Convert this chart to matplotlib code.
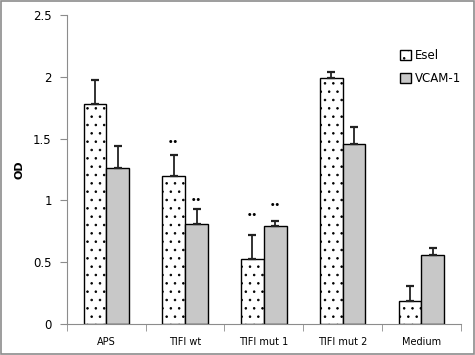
import numpy as np
import matplotlib.pyplot as plt
from matplotlib.patches import Rectangle

groups = ['APS', 'TIFI wt', 'TIFI mut 1', 'TIFI mut 2', 'Medium']
esel = [1.78, 1.20, 0.53, 1.99, 0.19]
esel_err = [0.19, 0.17, 0.19, 0.05, 0.12]
vcam = [1.26, 0.81, 0.79, 1.46, 0.555]
vcam_err = [0.18, 0.12, 0.04, 0.13, 0.06]
# significance marks (group index, series, y position)
marks = [(1, 'esel', 1.47), (1, 'vcam', 1.0), (2, 'esel', 0.88), (2, 'vcam', 0.96)]

plt.rcParams['font.family'] = 'DejaVu Sans'
plt.rcParams['hatch.linewidth'] = 0.6

fig = plt.figure(figsize=(4.75, 3.55), dpi=100)
fig.patches.append(Rectangle((0.002, 0.003), 0.995, 0.994, transform=fig.transFigure,
                             fill=False, edgecolor='#8c8c8c', linewidth=1.2))
ax = fig.add_axes([0.141, 0.087, 0.829, 0.871])

x = np.arange(len(groups))
w = 0.29
ax.bar(x - w/2, esel, w, color='white', edgecolor='black', hatch='..', linewidth=1.0,
       label='Esel', zorder=2)
ax.bar(x + w/2, vcam, w, color='#c8c8c8', edgecolor='black', linewidth=1.0,
       label='VCAM-1', zorder=2)
ax.errorbar(x - w/2, esel, yerr=[np.zeros(5), esel_err], fmt='none', ecolor='#222222',
            elinewidth=1.3, capsize=3, capthick=1.6, zorder=3)
ax.errorbar(x + w/2, vcam, yerr=[np.zeros(5), vcam_err], fmt='none', ecolor='#222222',
            elinewidth=1.3, capsize=3, capthick=1.6, zorder=3)

for g, s, yy in marks:
    xx = g - w/2 if s == 'esel' else g + w/2
    ax.text(xx, yy, '\u2022\u2022', ha='center', va='center', fontsize=6, fontweight='bold')

ax.set_xlim(-0.5, 4.5)
ax.set_ylim(0, 2.5)
ax.set_yticks([0, 0.5, 1, 1.5, 2, 2.5])
ax.set_yticklabels(['0', '0.5', '1', '1.5', '2', '2.5'], fontsize=8.5)
ax.set_xticks(x)
ax.set_xticklabels(groups, fontsize=7)
ax.set_xticks(np.arange(-0.5, 5, 1), minor=True)
ax.tick_params(axis='x', which='major', length=0, pad=9)
ax.tick_params(axis='x', which='minor', length=5, color='#8c8c8c', direction='out')
ax.tick_params(axis='y', length=5, color='#8c8c8c', pad=6)
for sp in ['top', 'right']:
    ax.spines[sp].set_visible(False)
for sp in ['left', 'bottom']:
    ax.spines[sp].set_color('#8c8c8c')
ax.set_ylabel('OD', fontsize=8, fontweight='bold', labelpad=6)

ax.legend(loc='upper left', bbox_to_anchor=(0.82, 0.925), frameon=False, fontsize=8.5,
          handlelength=0.9, handleheight=0.9, handletextpad=0.3, labelspacing=0.9)

fig.savefig('out.png')
